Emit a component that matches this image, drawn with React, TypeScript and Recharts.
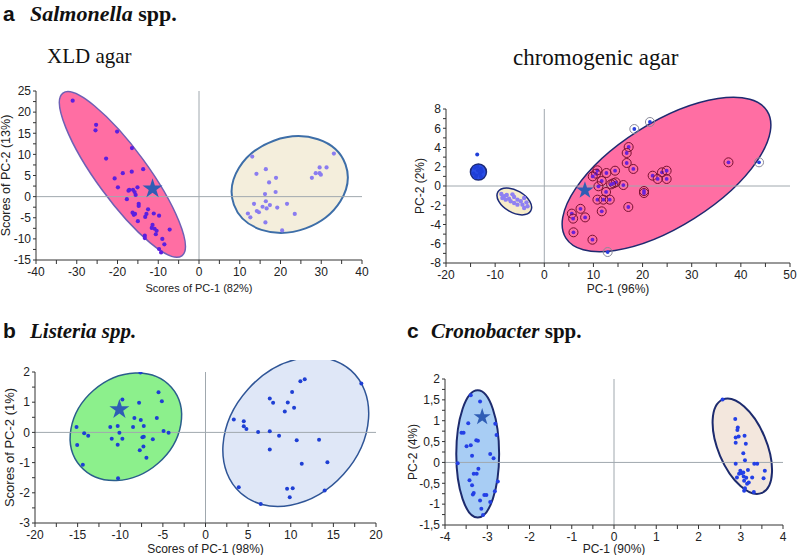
import React from 'react';
import {
  ReferenceArea,
  ReferenceLine,
  Scatter,
  ScatterChart,
  Symbols,
  XAxis,
  YAxis,
} from 'recharts';

type Pt = [number, number];

type EllipseSpec = {
  cx: number;
  cy: number;
  ax: number;
  ay: number;
  bx: number;
  by: number;
  fill: string;
  stroke: string;
  strokeWidth?: number;
};

type Group = { points: Pt[]; color: string; r: number; ring?: string };

const sans = '"Liberation Sans", Arial, sans-serif';
const serif = '"Liberation Serif", "Times New Roman", serif';

// ---- a: Salmonella, XLD agar ----
const xldXTicks = [-40, -35, -30, -25, -20, -15, -10, -5, 0, 5, 10, 15, 20, 25, 30, 35, 40];
const xldYTicks = [-15, -12.5, -10, -7.5, -5, -2.5, 0, 2.5, 5, 7.5, 10, 12.5, 15, 17.5, 20, 22.5, 25];
const xldPink: Pt[] = [
  [-31.0, 22.7], [-25.25, 17.0], [-25.4, 15.7], [-20.1, 15.4], [-16.45, 11.5], [-22.8, 9.0],
  [-13.7, 6.5], [-16.5, 5.9], [-18.7, 5.55], [-20.7, 4.3], [-19.9, 2.2], [-17.1, 1.6],
  [-17.3, 1.4], [-16.2, 1.6], [-15.8, 1.1], [-15.1, 2.2], [-15.55, 0.4], [-17.7, -0.6],
  [-14.8, -1.7], [-14.8, -2.2], [-12.5, -3.0], [-12.9, -4.1], [-13.2, -4.8], [-16.3, -3.8],
  [-16.0, -4.3], [-15.7, -4.1], [-11.1, -4.0], [-9.8, -4.5], [-15.0, -5.8], [-11.4, -6.7],
  [-11.6, -7.4], [-10.9, -7.6], [-10.4, -8.1], [-10.6, -8.9], [-7.2, -7.8], [-9.0, -10.0],
  [-8.5, -11.3], [-13.3, -9.25], [-13.3, -9.8], [-9.8, -12.4], [-9.3, -13.2],
];
const xldBeige: Pt[] = [
  [13.06, 9.49], [16.4, 6.5], [14.1, 5.4], [18.9, 4.45], [17.2, 3.35], [18.8, 1.1],
  [16.2, 0.6], [16.4, -1.1], [13.5, -1.7], [17.4, -2.0], [15.6, -2.4], [16.6, -2.8],
  [19.2, -2.6], [21.6, -1.7], [14.2, -3.4], [14.7, -3.7], [12.0, -4.0], [12.6, -4.9],
  [23.5, -4.1], [16.3, -6.1], [20.4, -8.0], [27.7, 4.45], [28.65, 5.55], [29.6, 5.55],
  [29.9, 5.2], [29.6, 6.9], [31.3, 6.9], [33.1, 10.2],
];
const xldStar: Pt = [-11.4, 1.85];
const xldEllipses: EllipseSpec[] = [
  { cx: -18.8, cy: 5.25, ax: 14.59, ay: -19.25, bx: -5.05, by: -3.57, fill: '#ff6ea3', stroke: '#6f5fb5', strokeWidth: 1.5 },
  { cx: 22.26, cy: 2.86, ax: 13.69, ay: 4.78, bx: 3.9, by: -10.38, fill: '#f4eedc', stroke: '#3d6ea8', strokeWidth: 2 },
];

// ---- a: Salmonella, chromogenic agar ----
const chromoXTicks = [-20, -15, -10, -5, 0, 5, 10, 15, 20, 25, 30, 35, 40, 45, 50];
const chromoYTicks = [-8, -7, -6, -5, -4, -3, -2, -1, 0, 1, 2, 3, 4, 5, 6, 7, 8];
const chromoBlue: Pt[] = [
  [-13.65, 3.26], [-14.2, 1.9], [-13.6, 2.0], [-12.9, 1.8], [-14.4, 1.3], [-13.8, 1.1],
  [-13.1, 1.3], [-12.7, 1.5], [-13.5, 1.6], [-14.0, 0.9], [-12.9, 0.95],
];
const chromoBeige: Pt[] = [
  [-8.74, -0.83], [-8.19, -1.07], [-7.64, -0.93], [-8.53, -1.25], [-7.17, -1.32], [-6.48, -0.87],
  [-6.14, -1.14], [-5.46, -1.42], [-4.78, -1.59], [-4.1, -1.25], [-4.44, -1.94], [-3.62, -1.7],
  [-3.41, -2.11], [-5.46, -1.94], [-6.83, -1.59], [-7.85, -1.42], [-6.14, -1.77], [-4.1, -2.29],
];
const chromoPink: Pt[] = [
  [17.17, 4.05], [16.77, 3.43], [16.77, 2.39], [18.12, 1.77], [14.4, 1.59], [10.81, 1.63],
  [10.54, 1.28], [9.86, 1.0], [12.64, 1.35], [11.69, 0.52], [11.02, -0.03], [14.06, 0.28],
  [14.53, 0.38], [13.59, 0.17], [16.09, 0.1], [12.57, -0.62], [10.81, -1.42], [12.03, -1.42],
  [13.32, -1.42], [17.1, -2.18], [11.69, -2.63], [9.8, -5.58], [22.05, 1.07], [23.07, 0.73],
  [23.95, 1.42], [24.9, 1.59], [24.9, 0.73], [20.29, -0.52], [20.29, -0.73], [37.48, 2.46],
  [8.31, -3.26], [7.37, -2.37], [5.6, -2.87], [5.87, -3.39], [5.94, -4.81],
];
const chromoEdge: Pt[] = [[18.32, 5.92], [21.5, 6.65], [43.7, 2.46], [12.9, -6.86]];
const chromoStar: Pt = [8.27, -0.46];
const chromoEllipses: EllipseSpec[] = [
  { cx: 24.87, cy: 1.19, ax: 20.47, ay: 6.6, bx: 5.66, by: -4.56, fill: '#ff6ea3', stroke: '#1f2a70', strokeWidth: 1.5 },
  { cx: -13.4, cy: 1.45, ax: 1.63, ay: 0, bx: 0, by: 0.83, fill: '#2a4ee6', stroke: '#1c2a78', strokeWidth: 1.5 },
  { cx: -6.1, cy: -1.6, ax: 3.34, ay: -0.99, bx: -1.12, by: -0.99, fill: '#f7ecc8', stroke: '#1c2a78', strokeWidth: 1.5 },
];

// ---- b: Listeria ----
const listeriaXTicks = [-20, -17.5, -15, -12.5, -10, -7.5, -5, -2.5, 0, 2.5, 5, 7.5, 10, 12.5, 15, 17.5, 20];
const listeriaYTicks = [-3, -2.5, -2, -1.5, -1, -0.5, 0, 0.5, 1, 1.5, 2];
const listeriaGreen: Pt[] = [
  [-7.63, 1.98], [-5.51, 1.33], [-5.12, 1.03], [-9.75, 1.09], [-7.79, 0.98], [-8.34, 0.48],
  [-7.59, 0.41], [-5.71, 0.48], [-7.24, 0.21], [-8.5, 0.18], [-10.3, 0.21], [-11.17, 0.18],
  [-10.1, -0.01], [-15.13, 0.18], [-14.23, -0.03], [-13.76, -0.11], [-4.92, 0.05], [-4.33, -0.01],
  [-11.0, -0.21], [-9.75, -0.21], [-7.4, -0.16], [-7.24, -0.14], [-6.18, -0.23], [-10.3, -0.41],
  [-7.28, -0.47], [-7.71, -0.59], [-6.93, -0.84], [-15.05, -0.42], [-14.39, -1.07], [-10.26, -1.52],
];
const listeriaBlue: Pt[] = [
  [11.64, 1.76], [11.13, 1.69], [10.16, 1.34], [18.28, 1.62], [7.54, 1.12], [7.93, 0.98],
  [9.65, 0.99], [10.39, 0.82], [9.3, 0.69], [3.32, 0.43], [4.49, 0.37], [4.49, 0.2],
  [4.8, 0.11], [6.17, 0.01], [7.54, 0.04], [8.63, -0.11], [10.7, -0.26], [13.32, -0.24],
  [7.54, -0.57], [11.29, -1.04], [14.3, -0.99], [3.9, -1.82], [9.57, -1.87], [10.23, -1.85],
  [9.88, -2.15], [13.98, -1.92], [6.48, -2.37],
];
const listeriaStar: Pt = [-10.1, 0.76];
const listeriaEllipses: EllipseSpec[] = [
  { cx: -9.34, cy: 0.187, ax: 5.33, ay: 1.31, bx: 3.78, by: -1.21, fill: '#8cf08c', stroke: '#2a5e8c', strokeWidth: 1.5 },
  { cx: 10.59, cy: 0.022, ax: 6.47, ay: 2.03, bx: 5.6, by: -1.41, fill: '#dfe7f7', stroke: '#2f5597', strokeWidth: 1.5 },
];

// ---- c: Cronobacter ----
const cronoXTicks = [-4, -3.5, -3, -2.5, -2, -1.5, -1, -0.5, 0, 0.5, 1, 1.5, 2, 2.5, 3, 3.5, 4];
const cronoYTicks = [-1.5, -1.25, -1, -0.75, -0.5, -0.25, 0, 0.25, 0.5, 0.75, 1, 1.25, 1.5, 1.75, 2];
const cronoBlue: Pt[] = [
  [-3.39, 1.61], [-3.17, 1.46], [-3.45, 0.94], [-3.61, 0.71], [-3.56, 0.71], [-3.26, 0.53],
  [-3.22, 0.52], [-3.39, 0.41], [-3.49, 0.39], [-2.81, 0.93], [-2.78, 0.66], [-3.36, 0.16],
  [-2.93, 0.2], [-2.85, 0.1], [-3.7, -0.02], [-3.21, -0.15], [-3.32, -0.27], [-3.25, -0.27],
  [-2.75, -0.46], [-3.42, -0.43], [-3.36, -0.55], [-3.32, -0.73], [-2.82, -0.69], [-3.07, -0.78],
  [-3.02, -0.78], [-3.34, -0.77], [-3.17, -0.91], [-2.93, -0.95], [-3.14, -1.11], [-3.1, -1.26],
];
const cronoBeige: Pt[] = [
  [2.57, 1.51], [2.87, 1.04], [2.93, 0.84], [2.92, 0.78], [2.95, 0.62], [2.88, 0.6],
  [3.09, 0.64], [2.88, 0.47], [3.12, 0.45], [3.06, 0.22], [3.1, 0.05], [2.88, -0.03],
  [3.32, -0.03], [3.39, -0.03], [3.17, -0.18], [2.99, -0.2], [3.02, -0.26], [3.06, -0.24],
  [2.96, -0.27], [3.07, -0.34], [2.91, -0.36], [3.27, -0.36], [3.57, -0.2], [3.54, -0.38],
  [3.08, -0.44], [3.19, -0.48], [3.15, -0.51], [3.1, -0.62], [3.08, -0.68], [3.31, -0.71],
  [3.13, -0.37],
];
const cronoStar: Pt = [-3.12, 1.09];
const cronoEllipses: EllipseSpec[] = [
  { cx: -3.226, cy: 0.203, ax: 0.507, ay: 0, bx: 0, by: 1.525, fill: '#a8cdf4', stroke: '#1d2b6e', strokeWidth: 2 },
  { cx: 3.037, cy: 0.387, ax: 0.466, ay: -1.118, bx: 0.527, by: 0.228, fill: '#f3e7dd', stroke: '#1d2b6e', strokeWidth: 2 },
];

const extent = (e: EllipseSpec) => ({
  hw: Math.sqrt(e.ax * e.ax + e.bx * e.bx),
  hh: Math.sqrt(e.ay * e.ay + e.by * e.by),
});

// the reference area spans the ellipse's bounding box; we map the unit circle into it
const ellipseShape = (e: EllipseSpec) => (p: any) => {
  const { hw, hh } = extent(e);
  const w = Math.abs(p.width);
  const h = Math.abs(p.height);
  const sx = w / (2 * hw);
  const sy = h / (2 * hh);
  const cx = Math.min(p.x, p.x + p.width) + w / 2;
  const cy = Math.min(p.y, p.y + p.height) + h / 2;
  const m = [e.ax * sx, -e.ay * sy, e.bx * sx, -e.by * sy, cx, cy].join(' ');
  return (
    <ellipse
      cx={0}
      cy={0}
      rx={1}
      ry={1}
      transform={`matrix(${m})`}
      fill={e.fill}
      stroke={e.stroke}
      strokeWidth={e.strokeWidth ?? 1.5}
      vectorEffect="non-scaling-stroke"
    />
  );
};

const dotShape = (g: Group) => (p: any) => (
  <g>
    {g.ring && <circle cx={p.cx} cy={p.cy} r={g.r + 2.6} fill="none" stroke={g.ring} strokeWidth={1} />}
    <circle cx={p.cx} cy={p.cy} r={g.r} fill={g.color} />
  </g>
);

const isStep = (v: number, step: number) => Math.abs(v / step - Math.round(v / step)) < 1e-6;

type PanelProps = {
  left: number;
  top: number;
  width: number;
  height: number;
  margin: { top: number; right: number; bottom: number; left: number };
  xDomain: [number, number];
  yDomain: [number, number];
  xTicks: number[];
  yTicks: number[];
  xStep: number;
  yStep: number;
  yAxisWidth: number;
  xAxisHeight: number;
  xTitle: string;
  yTitle: string;
  xTitleOffset: number;
  yTitleOffset: number;
  xTitleSize: number;
  yTitleSize: number;
  ellipses: EllipseSpec[];
  groups: Group[];
  star: Pt;
  starSize: number;
  comma?: boolean;
};

const Panel = ({
  left,
  top,
  width,
  height,
  margin,
  xDomain,
  yDomain,
  xTicks,
  yTicks,
  xStep,
  yStep,
  yAxisWidth,
  xAxisHeight,
  xTitle,
  yTitle,
  xTitleOffset,
  yTitleOffset,
  xTitleSize,
  yTitleSize,
  ellipses,
  groups,
  star,
  starSize,
  comma = false,
}: PanelProps) => {
  const fmt = (v: number) => (comma ? String(v).replace('.', ',') : String(v));
  const tickStyle = { fontSize: 12, fill: '#222', fontFamily: sans };
  return (
    <div style={{ position: 'absolute', left, top }}>
      <ScatterChart width={width} height={height} margin={margin}>
        <XAxis
          type="number"
          dataKey="x"
          domain={xDomain}
          ticks={xTicks}
          interval={0}
          allowDataOverflow
          height={xAxisHeight}
          tickSize={4}
          tickMargin={3}
          stroke="#333"
          tick={tickStyle}
          tickFormatter={(v: number) => (isStep(v, xStep) ? fmt(v) : '')}
          label={{
            value: xTitle,
            position: 'insideBottom',
            offset: xTitleOffset,
            style: { fontSize: xTitleSize, fill: '#222', fontFamily: sans },
          }}
        />
        <YAxis
          type="number"
          dataKey="y"
          domain={yDomain}
          ticks={yTicks}
          interval={0}
          allowDataOverflow
          width={yAxisWidth}
          tickSize={3}
          tickMargin={2}
          stroke="#333"
          tick={tickStyle}
          tickFormatter={(v: number) => (isStep(v, yStep) ? fmt(v) : '')}
          label={{
            value: yTitle,
            angle: -90,
            position: 'insideLeft',
            offset: yTitleOffset,
            style: { fontSize: yTitleSize, fill: '#222', fontFamily: sans, textAnchor: 'middle' },
          }}
        />
        <ReferenceLine x={0} stroke="#a0a8ae" strokeWidth={1} />
        <ReferenceLine y={0} stroke="#a0a8ae" strokeWidth={1} />
        {ellipses.map((e, i) => {
          const { hw, hh } = extent(e);
          return (
            <ReferenceArea
              key={`e${i}`}
              x1={e.cx - hw}
              x2={e.cx + hw}
              y1={e.cy - hh}
              y2={e.cy + hh}
              ifOverflow="visible"
              shape={ellipseShape(e)}
            />
          );
        })}
        {groups.map((g, i) => (
          <Scatter
            key={`g${i}`}
            data={g.points.map(([x, y]) => ({ x, y }))}
            isAnimationActive={false}
            shape={dotShape(g)}
          />
        ))}
        <Scatter
          data={[{ x: star[0], y: star[1] }]}
          isAnimationActive={false}
          shape={(p: any) => <Symbols cx={p.cx} cy={p.cy} type="star" size={starSize} fill="#2f5db5" />}
        />
      </ScatterChart>
    </div>
  );
};

export default function App() {
  return (
    <div
      style={{
        position: 'absolute',
        left: 0,
        top: 0,
        width: 798,
        height: 555,
        overflow: 'hidden',
        background: '#fff',
      }}
    >
      <svg width={798} height={555} style={{ position: 'absolute', left: 0, top: 0 }}>
        <text x={3} y={20.5} fontFamily={sans} fontWeight="bold" fontSize={21} fill="#111">a</text>
        <text x={30} y={20.5} fontFamily={serif} fontWeight="bold" fontSize={22} fill="#111">
          <tspan fontStyle="italic">Salmonella</tspan>
          <tspan> spp.</tspan>
        </text>
        <text x={47} y={63} fontFamily={serif} fontSize={21} fill="#111">XLD agar</text>
        <text x={513} y={65} fontFamily={serif} fontSize={23} fill="#111">chromogenic agar</text>
        <text x={3} y={338} fontFamily={sans} fontWeight="bold" fontSize={21} fill="#111">b</text>
        <text x={30} y={338} fontFamily={serif} fontWeight="bold" fontStyle="italic" fontSize={21} fill="#111">
          Listeria spp.
        </text>
        <text x={407} y={338} fontFamily={sans} fontWeight="bold" fontSize={21} fill="#111">c</text>
        <text x={431} y={338} fontFamily={serif} fontWeight="bold" fontSize={21} fill="#111">
          <tspan fontStyle="italic">Cronobacter</tspan>
          <tspan> spp.</tspan>
        </text>
      </svg>

      <Panel
        left={0}
        top={80}
        width={380}
        height={220}
        margin={{ top: 11, right: 18, bottom: 0, left: 0 }}
        xDomain={[-40, 40]}
        yDomain={[-15, 25]}
        xTicks={xldXTicks}
        yTicks={xldYTicks}
        xStep={10}
        yStep={5}
        yAxisWidth={36}
        xAxisHeight={40}
        xTitle="Scores of PC-1 (82%)"
        yTitle="Scores of PC-2 (13%)"
        xTitleOffset={8}
        yTitleOffset={6}
        xTitleSize={11}
        yTitleSize={12.5}
        ellipses={xldEllipses}
        groups={[
          { points: xldPink, color: '#5b1fe0', r: 2.1 },
          { points: xldBeige, color: '#8a7cf0', r: 2.1 },
        ]}
        star={xldStar}
        starSize={124}
      />

      <Panel
        left={406}
        top={90}
        width={392}
        height={213}
        margin={{ top: 19, right: 8, bottom: 0, left: 0 }}
        xDomain={[-20, 50]}
        yDomain={[-8, 8]}
        xTicks={chromoXTicks}
        yTicks={chromoYTicks}
        xStep={10}
        yStep={2}
        yAxisWidth={40}
        xAxisHeight={40}
        xTitle="PC-1 (96%)"
        yTitle="PC-2 (2%)"
        xTitleOffset={10}
        yTitleOffset={14}
        xTitleSize={12}
        yTitleSize={12}
        ellipses={chromoEllipses}
        groups={[
          { points: chromoBlue, color: '#1f3fd8', r: 2 },
          { points: chromoBeige, color: '#8f80f2', r: 2.2 },
          { points: chromoPink, color: '#6a22d8', r: 1.9, ring: '#7a1030' },
          { points: chromoEdge, color: '#2a3ee0', r: 1.9, ring: '#8a8a9a' },
        ]}
        star={chromoStar}
        starSize={95}
      />

      <Panel
        left={0}
        top={360}
        width={390}
        height={195}
        margin={{ top: 12, right: 14, bottom: 0, left: 0 }}
        xDomain={[-20, 20]}
        yDomain={[-3, 2]}
        xTicks={listeriaXTicks}
        yTicks={listeriaYTicks}
        xStep={5}
        yStep={1}
        yAxisWidth={35}
        xAxisHeight={32}
        xTitle="Scores of PC-1 (98%)"
        yTitle="Scores of PC-2 (1%)"
        xTitleOffset={2}
        yTitleOffset={9}
        xTitleSize={12}
        yTitleSize={13}
        ellipses={listeriaEllipses}
        groups={[
          { points: listeriaGreen, color: '#1e3fd4', r: 2 },
          { points: listeriaBlue, color: '#1e3fd4', r: 2 },
        ]}
        star={listeriaStar}
        starSize={124}
      />

      <Panel
        left={405}
        top={365}
        width={388}
        height={190}
        margin={{ top: 14, right: 10, bottom: 0, left: 0 }}
        xDomain={[-4, 4]}
        yDomain={[-1.5, 2]}
        xTicks={cronoXTicks}
        yTicks={cronoYTicks}
        xStep={1}
        yStep={0.5}
        yAxisWidth={40}
        xAxisHeight={30}
        xTitle="PC-1 (90%)"
        yTitle="PC-2 (4%)"
        xTitleOffset={2}
        yTitleOffset={8}
        xTitleSize={12}
        yTitleSize={12}
        ellipses={cronoEllipses}
        groups={[
          { points: cronoBlue, color: '#2440e6', r: 2 },
          { points: cronoBeige, color: '#2440e6', r: 2 },
        ]}
        star={cronoStar}
        starSize={90}
        comma
      />
    </div>
  );
}
